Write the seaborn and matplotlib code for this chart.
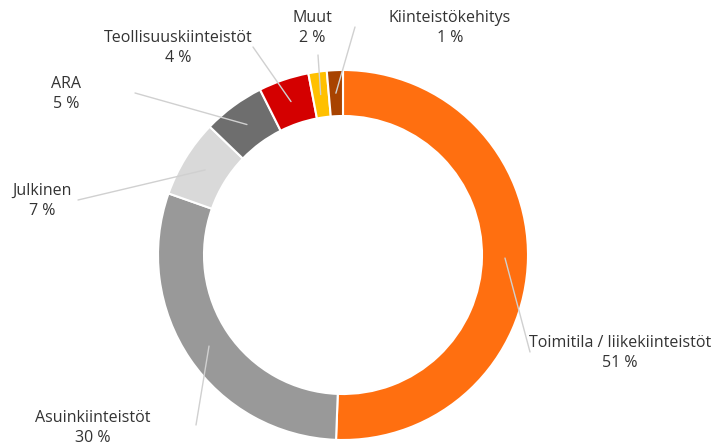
import numpy as np
import matplotlib
matplotlib.use('Agg')
import matplotlib.pyplot as plt
import seaborn as sns

# ── Data ─────────────────────────────────────────────────────────────────────
labels = ['Toimitila / liikekiinteistöt', 'Asuinkiinteistöt', 'Julkinen', 'ARA',
          'Teollisuuskiinteistöt', 'Muut', 'Kiinteistökehitys']
values = [50.6, 29.8, 6.8, 5.4, 4.4, 1.6, 1.4]     # slice sizes
pct_text = [51, 30, 7, 5, 4, 2, 1]                   # rounded figures printed
colors = ['#FF6F10', '#999999', '#D9D9D9', '#6E6E6E', '#D40000', '#FFC000', '#A84300']

# label text centre (pixels, from top-left) and leader line end
label_pos = {
    'Toimitila / liikekiinteistöt': (620, 353),
    'Asuinkiinteistöt': (93, 428),
    'Julkinen': (42, 201),
    'ARA': (66, 94),
    'Teollisuuskiinteistöt': (178, 48),
    'Muut': (312, 28),
    'Kiinteistökehitys': (450, 28),
}
line_end = {
    'Toimitila / liikekiinteistöt': (530, 352),
    'Asuinkiinteistöt': (196, 425),
    'Julkinen': (78, 200),
    'ARA': (135, 93),
    'Teollisuuskiinteistöt': (253, 47),
    'Muut': (318, 55),
    'Kiinteistökehitys': (355, 27),
}

W, H = 716, 446
CX, CY, R, WIDTH = 343, 255, 185, 46

sns.set_theme(style='white')
plt.rcParams['font.family'] = ['Open Sans', 'DejaVu Sans']

fig = plt.figure(figsize=(W / 100, H / 100), dpi=100)
ax = fig.add_axes([0, 0, 1, 1])
fy = lambda y: H - y

ax.pie(values, colors=colors, startangle=90, counterclock=False,
       radius=R, center=(CX, fy(CY)),
       wedgeprops=dict(width=WIDTH, edgecolor='white', linewidth=1.5))

# leader lines start in the middle of the ring at each slice's mid-angle
cum = np.cumsum([0] + values[:-1])
r_mid = R - WIDTH / 2
for lab, v, p, c0 in zip(labels, values, pct_text, cum):
    ang = np.deg2rad((c0 + v / 2) / 100 * 360)
    sx, sy = CX + r_mid * np.sin(ang), CY - r_mid * np.cos(ang)
    ex, ey = line_end[lab]
    ax.plot([sx, ex], [fy(sy), fy(ey)], color='#D0D0D0', lw=1, zorder=5)
    tx, ty = label_pos[lab]
    ax.text(tx, fy(ty), f'{lab}\n{p} %', ha='center', va='center',
            fontsize=11.5, color='#333333', linespacing=1.4, zorder=6)

ax.set_xlim(0, W)
ax.set_ylim(0, H)
ax.set_aspect('equal')
ax.axis('off')
fig.savefig('out.png', dpi=100)
